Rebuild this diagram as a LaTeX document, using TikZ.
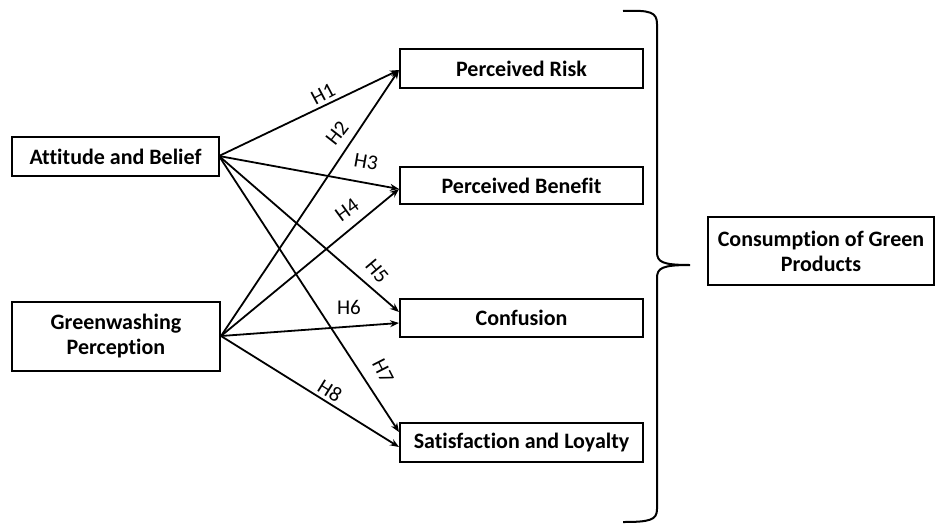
\documentclass[tikz,border=0pt]{standalone}
\usepackage{fontspec}
\setmainfont{Carlito}[Ligatures=NoCommon]
\usetikzlibrary{arrows.meta}
\begin{document}
\begin{tikzpicture}[x=1pt,y=-1pt,
  box/.style={draw,line width=2.2pt,font=\bfseries\fontsize{22}{25}\selectfont,align=center,inner sep=0pt},
  arr/.style={line width=1.8pt,-{Stealth[length=9pt,width=7pt]}},
  hl/.style={font=\fontsize{21}{23}\selectfont,inner sep=0pt}]
\useasboundingbox (0,0) rectangle (936,531);
\node[box,minimum width=207pt,minimum height=39pt] (ab) at (115.5,156.5) {Attitude and Belief};
\node[box,minimum width=208pt,minimum height=69pt] (gp) at (116,336.5) {Greenwashing\\Perception};
\node[box,minimum width=243pt,minimum height=39pt] (pr) at (521.5,68.5) {Perceived Risk};
\node[box,minimum width=243pt,minimum height=37pt] (pb) at (521.5,185.5) {Perceived Benefit};
\node[box,minimum width=243pt,minimum height=38pt] (cf) at (521.5,318) {Confusion};
\node[box,minimum width=243pt,minimum height=39pt] (sl) at (521.5,442.5) {Satisfaction and Loyalty};
\node[box,minimum width=226pt,minimum height=68pt] (cg) at (821,251) {Consumption of Green\\Products};
\coordinate (abo) at (219,156);
\coordinate (gpo) at (221,336);
\coordinate (prA) at (399,70);
\coordinate (pbA) at (399,189);
\coordinate (cf5) at (399,312);
\coordinate (cf6) at (399,323);
\coordinate (sl7) at (399,432);
\coordinate (sl8) at (399,447);
\draw[arr] (abo) -- (prA);
\draw[arr] (gpo) -- (prA);
\draw[arr] (abo) -- (pbA);
\draw[arr] (gpo) -- (pbA);
\draw[arr] (abo) -- (cf5);
\draw[arr] (gpo) -- (cf6);
\draw[arr] (abo) -- (sl7);
\draw[arr] (gpo) -- (sl8);
\node[hl,rotate=28] (h1) at (323,94) {H1};
\node[hl,rotate=52] (h2) at (337,133) {H2};
\node[hl,rotate=-10] (h3) at (366,162) {H3};
\node[hl,rotate=36] (h4) at (347,210) {H4};
\node[hl,rotate=-50] (h5) at (377,271) {H5};
\node[hl] (h6) at (349,307) {H6};
\node[hl,rotate=-63] (h7) at (383,371) {H7};
\node[hl,rotate=-32] (h8) at (330,391) {H8};
\draw[line width=2pt] (623,11) .. controls (650,10) and (657,12) .. (657,24)
  -- (657,252) .. controls (657,262) and (662,265) .. (690,265)
  .. controls (662,265) and (657,268) .. (657,278)
  -- (657,509) .. controls (657,520) and (650,522) .. (623,522);
\end{tikzpicture}
\end{document}
